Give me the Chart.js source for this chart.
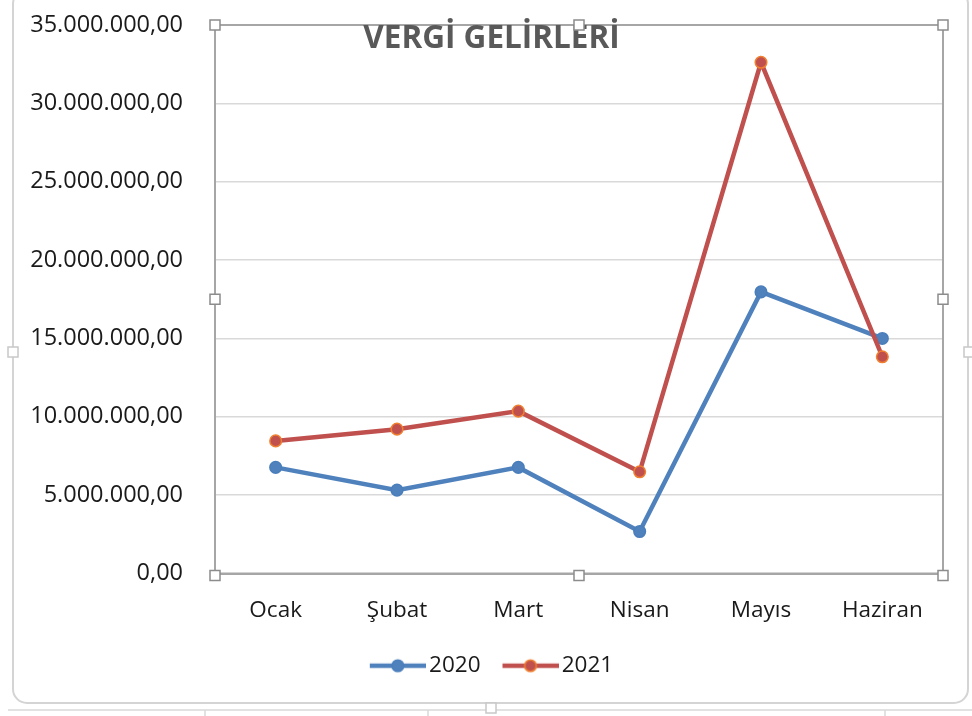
<!DOCTYPE html>
<html>
<head>
<meta charset="utf-8">
<script src="https://cdn.jsdelivr.net/npm/chart.js@4"></script>
<style>
  html, body { margin: 0; padding: 0; background: #ffffff; }
  #wrap { width: 972px; height: 716px; position: relative; }
  canvas { display: block; }
</style>
</head>
<body>
<div id="wrap"><canvas id="c" width="972" height="716"></canvas></div>
<script>
// ---- data ----
const categories = ['Ocak', 'Şubat', 'Mart', 'Nisan', 'Mayıs', 'Haziran'];
const seriesNames = ['2020', '2021'];
const values2020 = [6770000, 5320000, 6770000, 2680000, 17970000, 15000000];
const values2021 = [8460000, 9210000, 10360000, 6490000, 32620000, 13830000];
const yTickValues = [0, 5000000, 10000000, 15000000, 20000000, 25000000, 30000000, 35000000];
const titleText = 'VERGİ GELİRLERİ';

// ---- styles ----
const FONT = 'Open Sans';
const C2020 = '#4F81BD', C2020B = '#4A7EBB';
const C2021 = '#C0504D', C2021B = '#F07F2F';

function fmtTR(v) {
  const s = Math.round(v).toString().replace(/\B(?=(\d{3})+(?!\d))/g, '.');
  return s + ',00';
}

function legendIcon(color, border) {
  const c = document.createElement('canvas');
  c.width = 64; c.height = 16;
  const g = c.getContext('2d');
  g.strokeStyle = color; g.lineWidth = 4.5;
  g.beginPath(); g.moveTo(8, 8); g.lineTo(64, 8); g.stroke();
  g.beginPath(); g.arc(36, 8, 5.8, 0, Math.PI * 2);
  g.fillStyle = color; g.fill();
  g.lineWidth = 1.5; g.strokeStyle = border; g.stroke();
  return c;
}
const icons = [legendIcon(C2020, C2020B), legendIcon(C2021, C2021B)];

function handle(ctx, x, y, col) {
  ctx.save();
  ctx.fillStyle = '#ffffff';
  ctx.strokeStyle = col || '#8c8c8c';
  ctx.lineWidth = 1.5;
  ctx.fillRect(x - 5, y - 5, 10, 10);
  ctx.strokeRect(x - 5, y - 5, 10, 10);
  ctx.restore();
}

const decor = {
  id: 'decor',
  afterLayout(chart) {
    // let the long y tick labels extend into the left margin without clipping
    chart.scales.y.left = 0;
  },
  beforeDraw(chart) {
    const ctx = chart.ctx;
    ctx.save();
    ctx.fillStyle = '#ffffff';
    ctx.fillRect(0, 0, chart.width, chart.height);
    ctx.strokeStyle = '#d4d4d4';
    ctx.lineWidth = 2;
    ctx.beginPath();
    ctx.roundRect(13, -10, 955, 713, 14);
    ctx.stroke();
    ctx.strokeStyle = '#d9d9d9';
    ctx.lineWidth = 1.5;
    ctx.beginPath();
    ctx.moveTo(8, 710); ctx.lineTo(972, 710);
    [205, 428, 885].forEach(x => { ctx.moveTo(x, 710); ctx.lineTo(x, 716); });
    ctx.stroke();
    ctx.restore();
  },
  beforeDatasetsDraw(chart) {
    const a = chart.chartArea, ctx = chart.ctx;
    ctx.save();
    ctx.strokeStyle = '#a6a6a6';
    ctx.lineWidth = 2;
    ctx.strokeRect(a.left, a.top, a.right - a.left, a.bottom - a.top);
    // chart title (overlaid on the plot area, as in the original)
    ctx.fillStyle = '#595959';
    ctx.font = 'bold 31.5px "' + FONT + '"';
    ctx.textAlign = 'center';
    ctx.textBaseline = 'middle';
    ctx.fillText(titleText, 491.5, 39);
    ctx.restore();
  },
  afterDraw(chart) {
    const a = chart.chartArea, ctx = chart.ctx;
    const mx = (a.left + a.right) / 2, my = (a.top + a.bottom) / 2;
    [[a.left, a.top], [mx, a.top], [a.right, a.top],
     [a.left, my], [a.right, my],
     [a.left, a.bottom + 2], [mx, a.bottom + 2], [a.right, a.bottom + 2]].forEach(p => handle(ctx, p[0], p[1]));
    [[13, 352], [969, 352], [491, 708]].forEach(p => handle(ctx, p[0], p[1], '#c8c8c8'));
  }
};

new Chart(document.getElementById('c'), {
  type: 'line',
  data: {
    labels: categories,
    datasets: [
      {
        label: seriesNames[0], data: values2020, order: 1,
        borderColor: C2020, backgroundColor: C2020,
        borderWidth: 4.5, pointRadius: 5.8, pointBorderWidth: 1.5,
        pointBackgroundColor: C2020, pointBorderColor: C2020B,
        tension: 0, fill: false
      },
      {
        label: seriesNames[1], data: values2021, order: 0,
        borderColor: C2021, backgroundColor: C2021,
        borderWidth: 4.5, pointRadius: 5.8, pointBorderWidth: 1.5,
        pointBackgroundColor: C2021, pointBorderColor: C2021B,
        tension: 0, fill: false
      }
    ]
  },
  options: {
    responsive: false,
    devicePixelRatio: 1,
    animation: false,
    layout: { padding: { left: 40, right: 29, top: 25, bottom: 29 } },
    plugins: {
      title: { display: false },
      legend: {
        position: 'bottom',
        labels: {
          usePointStyle: true,
          pointStyleWidth: 48,
          padding: 22,
          color: '#1a1a1a',
          font: { family: FONT, size: 22.5 },
          generateLabels(chart) {
            return chart.data.datasets.map((ds, i) => ({
              text: ds.label,
              datasetIndex: i,
              pointStyle: icons[i],
              fillStyle: ds.borderColor,
              strokeStyle: ds.borderColor,
              lineWidth: 0,
              hidden: false,
              fontColor: '#1a1a1a'
            }));
          }
        }
      },
      tooltip: { enabled: false }
    },
    scales: {
      x: {
        offset: true,
        grid: { display: false, drawTicks: false },
        border: { display: true, color: '#a6a6a6', width: 2 },
        ticks: { padding: 24, color: '#1a1a1a', font: { family: FONT, size: 22.5 }, maxRotation: 0 },
        afterFit(scale) { scale.height = 59; }
      },
      y: {
        min: 0, max: 35000000,
        afterBuildTicks(scale) { scale.ticks = yTickValues.map(v => ({ value: v })); },
        grid: { color: '#d9d9d9', lineWidth: 1.5, drawTicks: true, tickLength: 32, tickColor: 'rgba(0,0,0,0)' },
        border: { display: true, color: '#a6a6a6', width: 2 },
        ticks: {
          padding: 0, color: '#1a1a1a', font: { family: FONT, size: 23.5 },
          callback: v => fmtTR(v)
        },
        afterFit(scale) { scale.width = 175; }
      }
    }
  },
  plugins: [decor]
});
</script>
</body>
</html>
